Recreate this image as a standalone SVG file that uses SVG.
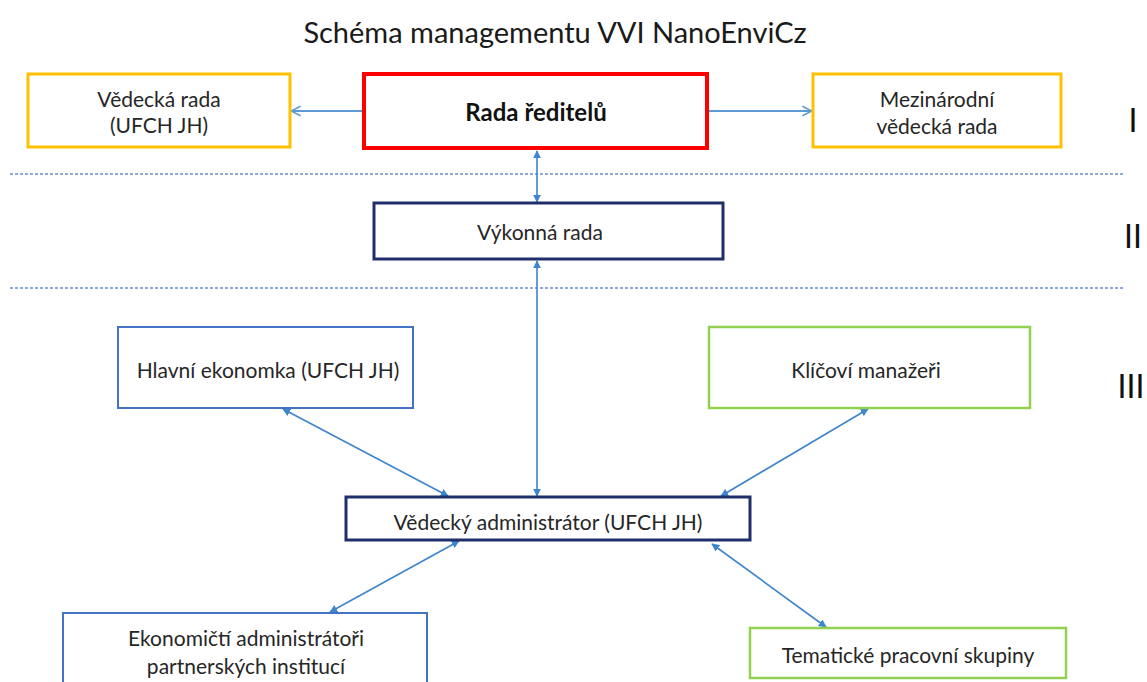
<svg xmlns="http://www.w3.org/2000/svg" width="1147" height="682" viewBox="0 0 1147 682">
<style>
  text { font-family: Lato, "Liberation Sans", sans-serif; fill: #262626; text-anchor: middle; dominant-baseline: central; }
  .lbl { font-size: 21px; }
  .ttl { font-size: 29px; fill: #1a1a1a; }
  .bold { font-size: 24px; font-weight: bold; fill: #111; }
  .rom { font-size: 32px; fill: #111; }
  .box { fill: #fff; }
  .gold { stroke: #FFC000; stroke-width: 3; }
  .red { stroke: #FF0000; stroke-width: 4; }
  .navy { stroke: #1F2F6B; stroke-width: 3; }
  .blue { stroke: #4472C4; stroke-width: 2; }
  .green { stroke: #92D050; stroke-width: 2.5; }
  .sep { stroke: #8EA9DB; stroke-width: 2; stroke-dasharray: 3 2; fill: none; }
  .con { stroke: #3D85CC; stroke-width: 1.6; fill: none; }
  .hcon { stroke: #5B9BD5; stroke-width: 2; fill: none; marker-end: url(#open); }
  .bi { marker-start: url(#tri); marker-end: url(#tri); }
</style>
<defs>
  <marker id="tri" viewBox="0 0 10 10" refX="9" refY="5" markerWidth="5" markerHeight="5" orient="auto-start-reverse" markerUnits="strokeWidth">
    <path d="M0,0 L10,5 L0,10 z" fill="#3D85CC"/>
  </marker>
  <marker id="open" viewBox="0 0 10 10" refX="9" refY="5" markerWidth="6" markerHeight="6" orient="auto" markerUnits="strokeWidth">
    <path d="M1,1 L9,5 L1,9" fill="none" stroke="#5B9BD5" stroke-width="1.3"/>
  </marker>
</defs>

<text class="ttl" x="555" y="31">Schéma managementu VVI NanoEnviCz</text>

<g id="separators">
  <line class="sep" x1="10" y1="174" x2="1125" y2="174"/>
  <line class="sep" x1="10" y1="288" x2="1125" y2="288"/>
</g>

<g id="levels">
  <text class="rom" x="1133" y="119">I</text>
  <text class="rom" x="1133" y="235">II</text>
  <text class="rom" x="1131" y="385">III</text>
</g>

<g id="connectors">
  <line class="hcon" x1="363" y1="111" x2="291" y2="111"/>
  <line class="hcon" x1="708" y1="111" x2="812" y2="111"/>
  <line class="con bi" x1="537" y1="151" x2="537" y2="202"/>
  <line class="con bi" x1="537" y1="261" x2="537" y2="496"/>
  <line class="con bi" x1="283" y1="409" x2="448" y2="496"/>
  <line class="con bi" x1="868" y1="409" x2="721" y2="496"/>
  <line class="con bi" x1="459" y1="541" x2="330" y2="612"/>
  <line class="con bi" x1="712" y1="544" x2="826" y2="627"/>
</g>

<g id="vedecka-rada">
  <rect class="box gold" x="28" y="74" width="262" height="73"/>
  <text class="lbl" x="159" y="98">Vědecká rada</text>
  <text class="lbl" x="159" y="124">(UFCH JH)</text>
</g>

<g id="rada-reditelu">
  <rect class="box red" x="364" y="74" width="343" height="74"/>
  <text class="bold" x="536" y="111">Rada ředitelů</text>
</g>

<g id="mezinarodni-rada">
  <rect class="box gold" x="813" y="74" width="248" height="73"/>
  <text class="lbl" x="937" y="98">Mezinárodní</text>
  <text class="lbl" x="937" y="125">vědecká rada</text>
</g>

<g id="vykonna-rada">
  <rect class="box navy" x="374" y="203" width="349" height="56"/>
  <text class="lbl" x="540" y="231">Výkonná rada</text>
</g>

<g id="hlavni-ekonomka">
  <rect class="box blue" x="118" y="327" width="295" height="81"/>
  <text class="lbl" x="268" y="369">Hlavní ekonomka (UFCH JH)</text>
</g>

<g id="klicovi-manazeri">
  <rect class="box green" x="709" y="327" width="321" height="81"/>
  <text class="lbl" x="866" y="369">Klíčoví manažeři</text>
</g>

<g id="vedecky-administrator">
  <rect class="box navy" x="346" y="497" width="404" height="43"/>
  <text class="lbl" x="548" y="521">Vědecký administrátor (UFCH JH)</text>
</g>

<g id="ekonomicti-administratori">
  <rect class="box blue" x="63" y="613" width="364" height="80"/>
  <text class="lbl" x="246" y="637">Ekonomičtí administrátoři</text>
  <text class="lbl" x="246" y="665">partnerských institucí</text>
</g>

<g id="tematicke-skupiny">
  <rect class="box green" x="750" y="628" width="316" height="50"/>
  <text class="lbl" x="908" y="654">Tematické pracovní skupiny</text>
</g>
</svg>
